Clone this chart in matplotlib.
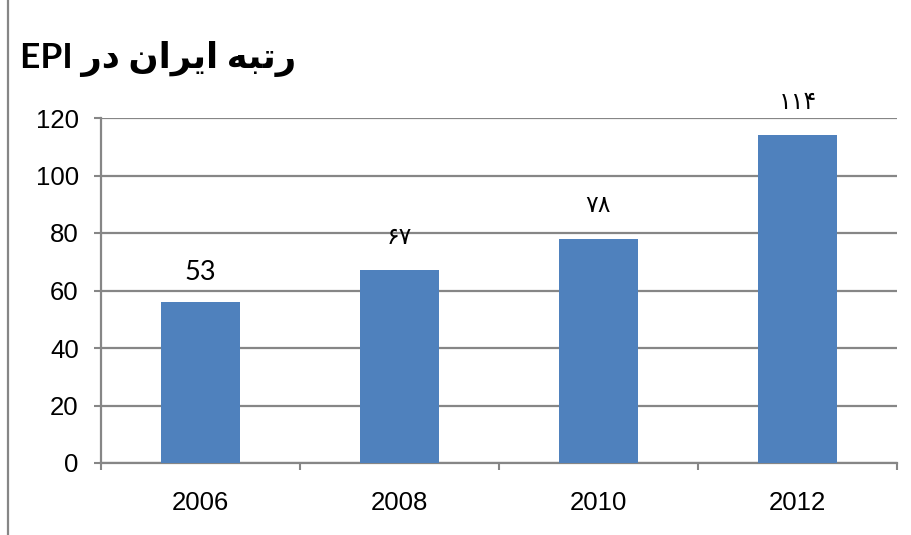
import matplotlib
matplotlib.use('Agg')
import matplotlib.pyplot as plt
from matplotlib.lines import Line2D
import numpy as np

# data
years = ['2006', '2008', '2010', '2012']
ranks = [56, 67, 78, 114]
# labels as printed on the chart (Persian digits except the first)
rank_labels = ['53', '\u06f6\u06f7', '\u06f7\u06f8', '\u06f1\u06f1\u06f4']
yticks = [0, 20, 40, 60, 80, 100, 120]

# "رتبه ایران در EPI" -- matplotlib has no shaping/bidi, so use presentation
# forms written in visual (left to right) order
title = ('EPI ' + '\ufead\ufea9' + ' ' + '\ufee5\ufe8d\ufeae\ufef3\ufe8d'
         + ' ' + '\ufeea\ufe92\ufe97\ufead')

bar_color = '#4F81BD'
grid_color = '#868686'

fig = plt.figure(figsize=(9.12, 5.35), dpi=100)
ax = fig.add_axes([101 / 912, 1 - 463 / 535, 796 / 912, 345 / 535])

x = np.arange(len(years))
ax.bar(x, ranks, width=0.4, color=bar_color, zorder=3)

for xi, val, lab in zip(x, ranks, rank_labels):
    if lab.isascii():
        ax.annotate(lab, (xi, val), xytext=(0, 21), textcoords='offset points',
                    ha='center', va='center', fontsize=19.5, family=['Lato', 'DejaVu Sans'])
    else:
        ax.annotate(lab, (xi, val), xytext=(0, 24), textcoords='offset points',
                    ha='center', va='center', fontsize=17, family=['DejaVu Sans'])

ax.set_xlim(-0.5, 3.5)
ax.set_ylim(0, 120)
ax.set_yticks(yticks)
ax.set_yticklabels([str(v) for v in yticks], fontsize=18.5, family='Liberation Sans')
ax.set_xticks(x)
ax.set_xticklabels(years, fontsize=18.5, family='Liberation Sans')
ax.set_xticks(np.arange(-0.5, 4.0, 1.0), minor=True)

ax.tick_params(axis='x', which='major', length=0, pad=20)
ax.tick_params(axis='x', which='minor', length=5, width=1.5, color=grid_color, direction='out')
ax.tick_params(axis='y', which='major', length=5, width=1.5, color=grid_color, pad=11)

ax.grid(axis='y', color=grid_color, linewidth=1.6, zorder=0)
ax.set_axisbelow(True)
for s in ['top', 'right']:
    ax.spines[s].set_visible(False)
for s in ['left', 'bottom']:
    ax.spines[s].set_color(grid_color)
    ax.spines[s].set_linewidth(1.6)

fig.text(20 / 912, 1 - 59 / 535, title, fontsize=25.5, fontweight='bold',
         family=['Lato', 'DejaVu Sans'], ha='left', va='center')

# left edge of the chart frame
fig.add_artist(Line2D([8.5 / 912, 8.5 / 912], [0, 1], color=grid_color, linewidth=1.6))

fig.savefig('out.png', dpi=100)
